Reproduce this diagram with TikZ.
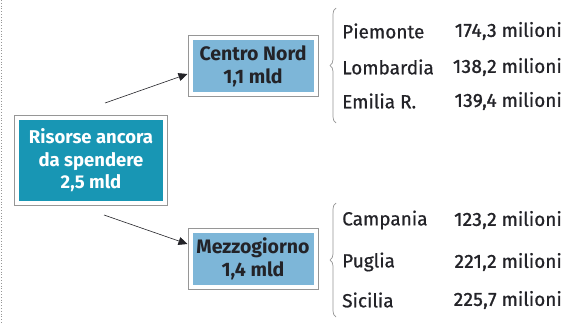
\documentclass[tikz,border=0pt]{standalone}
\usepackage{fontspec}
\setmainfont{Fira Sans}
\newfontfamily\listfont{Fira Sans}[FakeBold=0.6]
\newfontfamily\numfont{Fira Sans}[FakeBold=1.4, LetterSpace=2]
\usetikzlibrary{fit,decorations.pathreplacing,arrows.meta}
\definecolor{tealbox}{RGB}{24,150,180}
\definecolor{bluebox}{RGB}{125,182,216}
\definecolor{darktext}{RGB}{35,35,40}
\definecolor{framegray}{RGB}{150,150,150}
\begin{document}
\begin{tikzpicture}[x=1pt,y=-1pt,
  mainbox/.style={fill=tealbox, text=white, font=\fontsize{18.5}{22.5}\selectfont\bfseries, align=center, minimum width=144pt, minimum height=81pt, inner sep=0pt},
  regbox/.style={fill=bluebox, text=darktext, font=\fontsize{19.5}{23}\selectfont\bfseries, align=center, minimum width=121pt, minimum height=52pt, inner sep=0pt},
  framebox/.style={draw=framegray, line width=0.6pt, fill=white, inner sep=4.5pt},
  reg/.style={anchor=west, text=darktext, font=\fontsize{19}{20}\listfont, inner sep=0pt},
  val/.style={anchor=east, text=darktext, font=\fontsize{19}{20}\listfont, inner sep=0pt},
  conn/.style={draw=darktext, line width=0.6pt, -{Triangle[length=9pt,width=8pt]}},
  brc/.style={draw=framegray, line width=0.7pt, decorate, decoration={brace, amplitude=6pt, raise=0pt}}
]
\newcommand{\amt}[1]{{\numfont #1}\ milioni}
\useasboundingbox (0,0) rectangle (577,324);
\fill[white] (0,0) rectangle (577,324);
\draw[framegray, dotted, line width=0.8pt] (1.5,0) -- (1.5,324);

% main box
\node[mainbox] (main) at (91,160.5) {Risorse ancora\\da spendere\\2,5 mld};
\node[framebox, fit=(main)] (mainf) {};
\node[mainbox] at (main) {Risorse ancora\\da spendere\\2,5 mld};

% region boxes
\node[regbox] (cn) at (253,66) {Centro Nord\\1,1 mld};
\node[framebox, fit=(cn)] (cnf) {};
\node[regbox] at (cn) {Centro Nord\\1,1 mld};

\node[regbox] (mz) at (253,259) {Mezzogiorno\\1,4 mld};
\node[framebox, fit=(mz)] (mzf) {};
\node[regbox] at (mz) {Mezzogiorno\\1,4 mld};

% arrows
\coordinate (a1s) at (105,103);
\coordinate (a2s) at (104,215);
\draw[conn] (a1s) -- (cnf.west |- 0,74);
\draw[conn] (a2s) -- (mzf.west |- 0,244);

% braces
\coordinate (b1t) at (336,8);
\coordinate (b1b) at (336,123);
\coordinate (b2t) at (336,203);
\coordinate (b2b) at (336,317);
\draw[brc] (b1b) -- (b1t);
\draw[brc] (b2b) -- (b2t);

% North list
\node[reg] (p1) at (342,31) {Piemonte};
\node[val] (v1) at (562,31) {\amt{174,3}};
\node[reg] (p2) at (342,67) {Lombardia};
\node[val] (v2) at (562,67) {\amt{138,2}};
\node[reg] (p3) at (342,101) {Emilia R.};
\node[val] (v3) at (562,101) {\amt{139,4}};

% South list
\node[reg] (s1) at (342,220) {Campania};
\node[val] (w1) at (562,220) {\amt{123,2}};
\node[reg] (s2) at (342,262) {Puglia};
\node[val] (w2) at (562,262) {\amt{221,2}};
\node[reg] (s3) at (342,300) {Sicilia};
\node[val] (w3) at (562,300) {\amt{225,7}};
\end{tikzpicture}
\end{document}
